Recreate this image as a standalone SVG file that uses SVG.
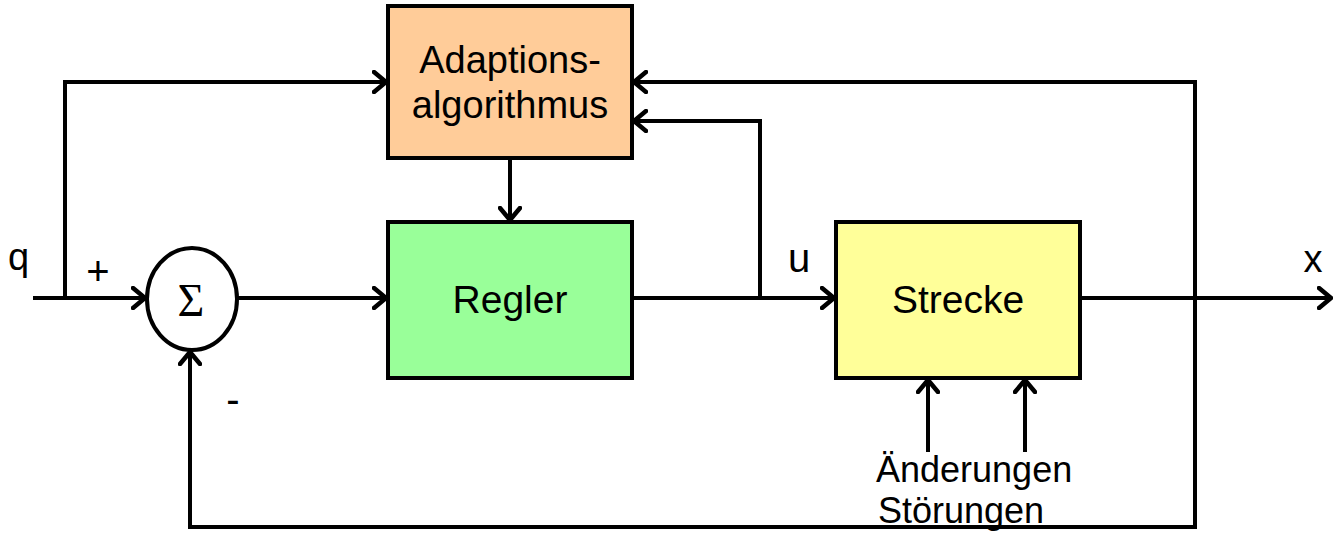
<svg xmlns="http://www.w3.org/2000/svg" width="1336" height="547" viewBox="0 0 1336 547">
<style>
.box{stroke:#000;stroke-width:4}
.ln{fill:none;stroke:#000;stroke-width:4;stroke-linejoin:miter}
.t{font-family:"Liberation Sans",Arial,sans-serif;font-size:36px;fill:#000}
.big{font-size:39px}
</style>
<defs>
<marker id="arr" viewBox="-14 -12 16 24" markerWidth="16" markerHeight="24" refX="0" refY="0" orient="auto" markerUnits="userSpaceOnUse">
<path d="M-12,-10 L0,0 L-12,10" fill="none" stroke="#000" stroke-width="4.5" stroke-linecap="round" stroke-linejoin="round"/>
</marker>
</defs>
<rect width="1336" height="547" fill="#fff"/>
<g id="connectors">
<path class="ln" d="M33,298 H145" marker-end="url(#arr)"/>
<path class="ln" d="M65,298 V82 H386" marker-end="url(#arr)"/>
<path class="ln" d="M238,298 H386" marker-end="url(#arr)"/>
<path class="ln" d="M510,158 V220" marker-end="url(#arr)"/>
<path class="ln" d="M632,298 H834" marker-end="url(#arr)"/>
<path class="ln" d="M760,298 V121 H634" marker-end="url(#arr)"/>
<path class="ln" d="M1080,298 H1331" marker-end="url(#arr)"/>
<path class="ln" d="M1195,298 V82 H634" marker-end="url(#arr)"/>
<path class="ln" d="M1195,298 V527 H190 V352" marker-end="url(#arr)"/>
<path class="ln" d="M928,452 V380" marker-end="url(#arr)"/>
<path class="ln" d="M1025,452 V380" marker-end="url(#arr)"/>
</g>
<g id="adaption">
<rect class="box" x="388" y="6" width="244" height="152" fill="#FFCC99"/>
<text class="t" x="510" y="73" text-anchor="middle" style="font-size:38px">Adaptions-</text>
<text class="t" x="510" y="118" text-anchor="middle" style="font-size:38px">algorithmus</text>
</g>
<g id="regler">
<rect class="box" x="388" y="222" width="244" height="156" fill="#99FF99"/>
<text class="t big" x="510" y="313" text-anchor="middle">Regler</text>
</g>
<g id="strecke">
<rect class="box" x="836" y="222" width="244" height="156" fill="#FFFF99"/>
<text class="t big" x="958" y="313" text-anchor="middle">Strecke</text>
</g>
<g id="summation">
<ellipse cx="192" cy="299" rx="45" ry="51" fill="#fff" stroke="#000" stroke-width="4"/>
<text x="191" y="316" text-anchor="middle" style="font-family:'Liberation Serif','Times New Roman',serif;font-size:46px">Σ</text>
</g>
<g id="labels">
<text class="t" x="8" y="270" style="font-size:38px">q</text>
<text class="t" x="98" y="285" text-anchor="middle" style="font-size:40px">+</text>
<text class="t" x="233" y="413" text-anchor="middle" style="font-size:40px">-</text>
<text class="t" x="799" y="272" text-anchor="middle" style="font-size:40px">u</text>
<text class="t" x="1313" y="272" text-anchor="middle" style="font-size:38px">x</text>
<text class="t" x="876" y="482">Änderungen</text>
<text class="t" x="878" y="523">Störungen</text>
</g>
</svg>
